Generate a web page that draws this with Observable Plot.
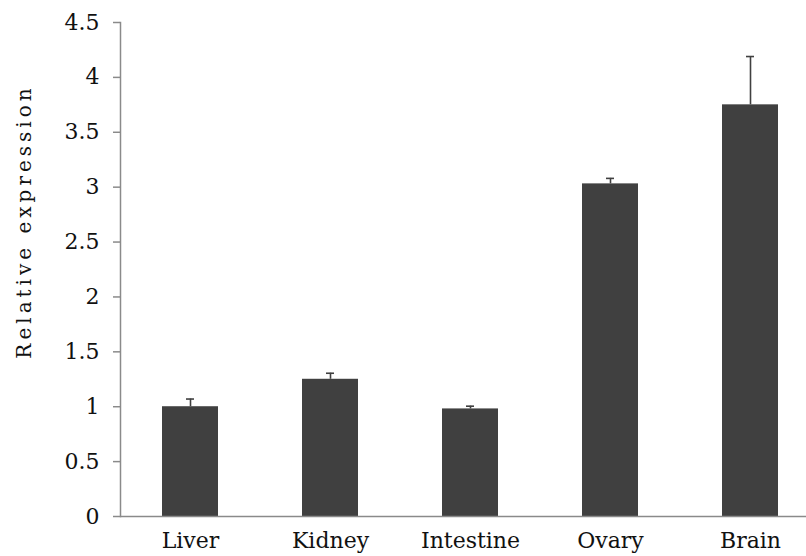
<!DOCTYPE html>
<html>
<head>
<meta charset="utf-8">
<script src="https://cdn.jsdelivr.net/npm/d3@7"></script>
<script src="https://cdn.jsdelivr.net/npm/@observablehq/plot@0.6"></script>
<style>
  body { margin: 0; background: #fff; }
  #chart svg { display: block; }
  .ylab text { letter-spacing: 4px; }
</style>
</head>
<body>
<div id="chart"></div>
<script>
const categories = ["Liver", "Kidney", "Intestine", "Ovary", "Brain"];
const values = [1.00, 1.25, 0.98, 3.03, 3.75];
const errors = [0.07, 0.055, 0.025, 0.05, 0.44];
const yTicks = [0, 0.5, 1, 1.5, 2, 2.5, 3, 3.5, 4, 4.5];
const yLabel = "Relative expression";

const data = categories.map((c, i) => ({tissue: c, value: values[i], err: errors[i], top: values[i] + errors[i]}));

const barColor = "#404040";
const axisColor = "#8a8a8a";

const chart = Plot.plot({
  width: 806,
  height: 556,
  marginLeft: 120,
  marginRight: 0,
  marginTop: 22,
  marginBottom: 40,
  style: {fontFamily: "DejaVu Serif", fontSize: "22px", color: "#111", background: "#fff"},
  x: {type: "band", domain: categories, range: [120, 820], paddingInner: 0.6, paddingOuter: 0.3, label: null},
  y: {domain: [0, 4.5], label: null},
  marks: [
    Plot.barY(data, {x: "tissue", y: "value", fill: barColor}),
    Plot.ruleX(data, {x: "tissue", y1: "value", y2: "top", stroke: barColor, strokeWidth: 1.6}),
    Plot.tickY(data, {x: "tissue", y: "top", stroke: barColor, strokeWidth: 1.6, insetLeft: 24, insetRight: 24}),
    Plot.ruleY([0], {stroke: axisColor, strokeWidth: 1.5}),
    Plot.frame({anchor: "left", stroke: axisColor, strokeWidth: 1.5}),
    Plot.axisY({ticks: yTicks, tickFormat: d => String(d), tickSize: 7, tickPadding: 14, stroke: axisColor, strokeWidth: 1.5, label: null}),
    Plot.axisX({tickSize: 0, tickPadding: 16, label: null}),
    Plot.text([yLabel], {text: d => d, frameAnchor: "left", textAnchor: "middle", rotate: -90, dx: -96, dy: -48, fontSize: 20, className: "ylab"})
  ]
});
document.getElementById("chart").appendChild(chart);
</script>
</body>
</html>
